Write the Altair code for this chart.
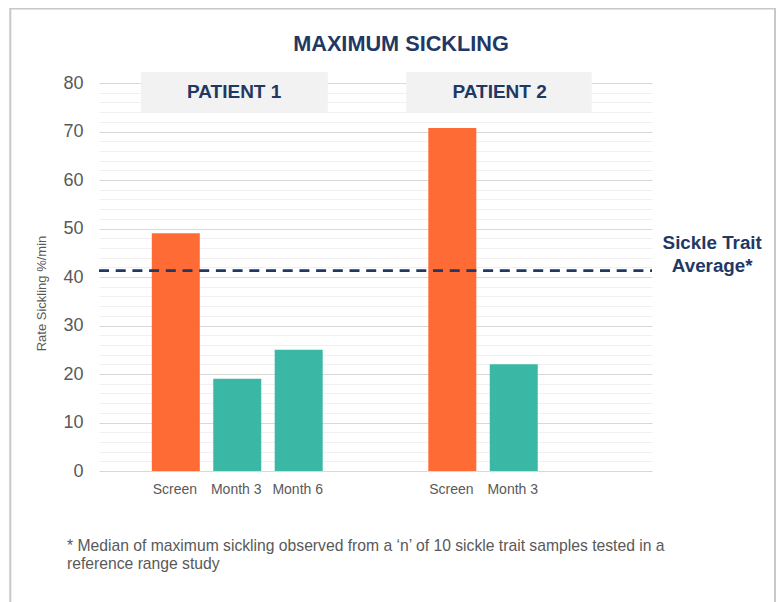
import altair as alt
import pandas as pd

# ---- data ----
patients = ["Patient 1", "Patient 1", "Patient 1", "Patient 2", "Patient 2"]
timepoints = ["Screen", "Month 3", "Month 6", "Screen", "Month 3"]
rates = [49, 19, 25, 70.7, 22]
sickle_trait_average = 41.3
patient_labels = ["PATIENT 1", "PATIENT 2"]
footnote = [
    "* Median of maximum sickling observed from a \u2018n\u2019 of 10 sickle trait samples tested in a",
    "reference range study",
]

# ---- layout (slot positions on a continuous x scale) ----
group_start = {"Patient 1": 1.25, "Patient 2": 5.75}
box_span = {"Patient 1": (0.684, 3.724), "Patient 2": (5.0, 8.02)}
label_center = {"Patient 1": 2.2, "Patient 2": 6.52}

NAVY = "#1F3864"
GRAY = "#595959"
FONT = "Liberation Sans"

rows = []
counter = {}
for p, t, v in zip(patients, timepoints, rates):
    i = counter.get(p, 0)
    counter[p] = i + 1
    rows.append({"patient": p, "timepoint": t, "rate": v,
                 "pos": group_start[p] + i,
                 "kind": "Screen" if t == "Screen" else "Follow-up"})
bars_df = pd.DataFrame(rows)

box_df = pd.DataFrame([
    {"x0": box_span[p][0], "x1": box_span[p][1], "y0": 73.96, "y1": 82.27,
     "xc": label_center[p], "yc": 78.1, "label": lab}
    for p, lab in zip(["Patient 1", "Patient 2"], patient_labels)
])

ref_df = pd.DataFrame({"y": [sickle_trait_average], "x0": [0], "x1": [9],
                       "tx": [9.98], "ty": [sickle_trait_average + 2.75]})

xscale = alt.Scale(domain=[0, 9], nice=False, zero=False, padding=0)
yscale = alt.Scale(domain=[0, 80], nice=False, padding=0)

y_axis = alt.Axis(
    values=list(range(0, 81, 2)), tickCount=100,
    labelExpr="datum.value % 10 === 0 ? datum.label : ''",
    labelOverlap=False, labelFlush=False,
    labelFontSize=18, labelColor=GRAY, labelFont=FONT, labelPadding=16,
    ticks=False, domain=False,
    gridColor={"condition": {"test": "datum.value % 10 === 0", "value": "#d9d9d9"},
               "value": "#f0f0f0"},
    gridWidth=1.2,
    title="Rate Sickling %/min", titleFontSize=13, titleFontWeight="normal",
    titleColor=GRAY, titleFont=FONT, titleAngle=-90,
    titleX=-58, titleY=210, titleAlign="center", titleBaseline="middle",
)

x_axis = alt.Axis(
    labels=False, ticks=False, domain=False, grid=False,
    title=footnote, titleFontSize=15.7, titleFontWeight="normal", titleColor=GRAY,
    titleFont=FONT, titleAnchor="start", titleAlign="left", titleBaseline="alphabetic",
    titleX=-32.5, titleY=79, titleLineHeight=18.3,
)

base_bars = alt.Chart(bars_df)

bars = base_bars.mark_bar(size=48).encode(
    x=alt.X("pos:Q", scale=xscale, axis=x_axis),
    y=alt.Y("rate:Q", scale=yscale, axis=y_axis),
    color=alt.Color("kind:N", scale=alt.Scale(domain=["Screen", "Follow-up"],
                                              range=["#FF6B35", "#3AB8A5"]), legend=None),
)

xlabels = base_bars.mark_text(fontSize=14, font=FONT, color=GRAY, baseline="alphabetic",
                              dy=22.5, dx=-1, clip=False).encode(
    x=alt.X("pos:Q", scale=xscale),
    y=alt.datum(0),
    text="timepoint:N",
)

boxes = alt.Chart(box_df).mark_rect(color="#f2f2f2", clip=False).encode(
    x=alt.X("x0:Q", scale=xscale), x2="x1:Q",
    y=alt.Y("y0:Q", scale=yscale), y2="y1:Q",
)

box_text = alt.Chart(box_df).mark_text(fontSize=19, fontWeight="bold", font=FONT,
                                       color=NAVY, baseline="middle", clip=False).encode(
    x=alt.X("xc:Q", scale=xscale),
    y=alt.Y("yc:Q", scale=yscale),
    text="label:N",
)

ref_line = alt.Chart(ref_df).mark_rule(color=NAVY, strokeWidth=2.7, strokeDash=[10, 6.7]).encode(
    x=alt.X("x0:Q", scale=xscale), x2="x1:Q",
    y=alt.Y("y:Q", scale=yscale),
)

ref_text = alt.Chart(ref_df).mark_text(fontSize=18.8, fontWeight="bold", font=FONT, color=NAVY,
                                       align="center", baseline="alphabetic", lineHeight=22.7,
                                       clip=False, dy=-8).encode(
    x=alt.X("tx:Q", scale=xscale),
    y=alt.Y("ty:Q", scale=yscale),
    text=alt.value(["Sickle Trait", "Average*"]),
)

frame_left = alt.Chart(ref_df).mark_rule(color="#c8c8c8", strokeWidth=2).encode(
    x=alt.value(-88.7), y=alt.value(-74.5), y2=alt.value(520))
frame_top = alt.Chart(ref_df).mark_rule(color="#c8c8c8", strokeWidth=2).encode(
    x=alt.value(-89.7), x2=alt.value(677), y=alt.value(-74.5))
frame_right = alt.Chart(ref_df).mark_rule(color="#c8c8c8", strokeWidth=2).encode(
    x=alt.value(676), y=alt.value(-74.5), y2=alt.value(520))

chart = alt.layer(
    bars, boxes, box_text, ref_line, ref_text, xlabels,
    frame_left, frame_top, frame_right,
).properties(
    width=553, height=388,
    background="white",
    title=alt.TitleParams("MAXIMUM SICKLING", fontSize=21.7, fontWeight="bold", font=FONT,
                          color=NAVY, anchor="middle", frame="group", baseline="alphabetic",
                          offset=0, dx=25.5, dy=65.2),
    autosize=alt.AutoSizeParams(type="none"),
    padding={"left": 91, "top": 75, "right": 124, "bottom": 131},
).configure_view(strokeWidth=0, stroke="transparent")

chart.save("out.html", embed_options={"renderer": "svg", "actions": False})
